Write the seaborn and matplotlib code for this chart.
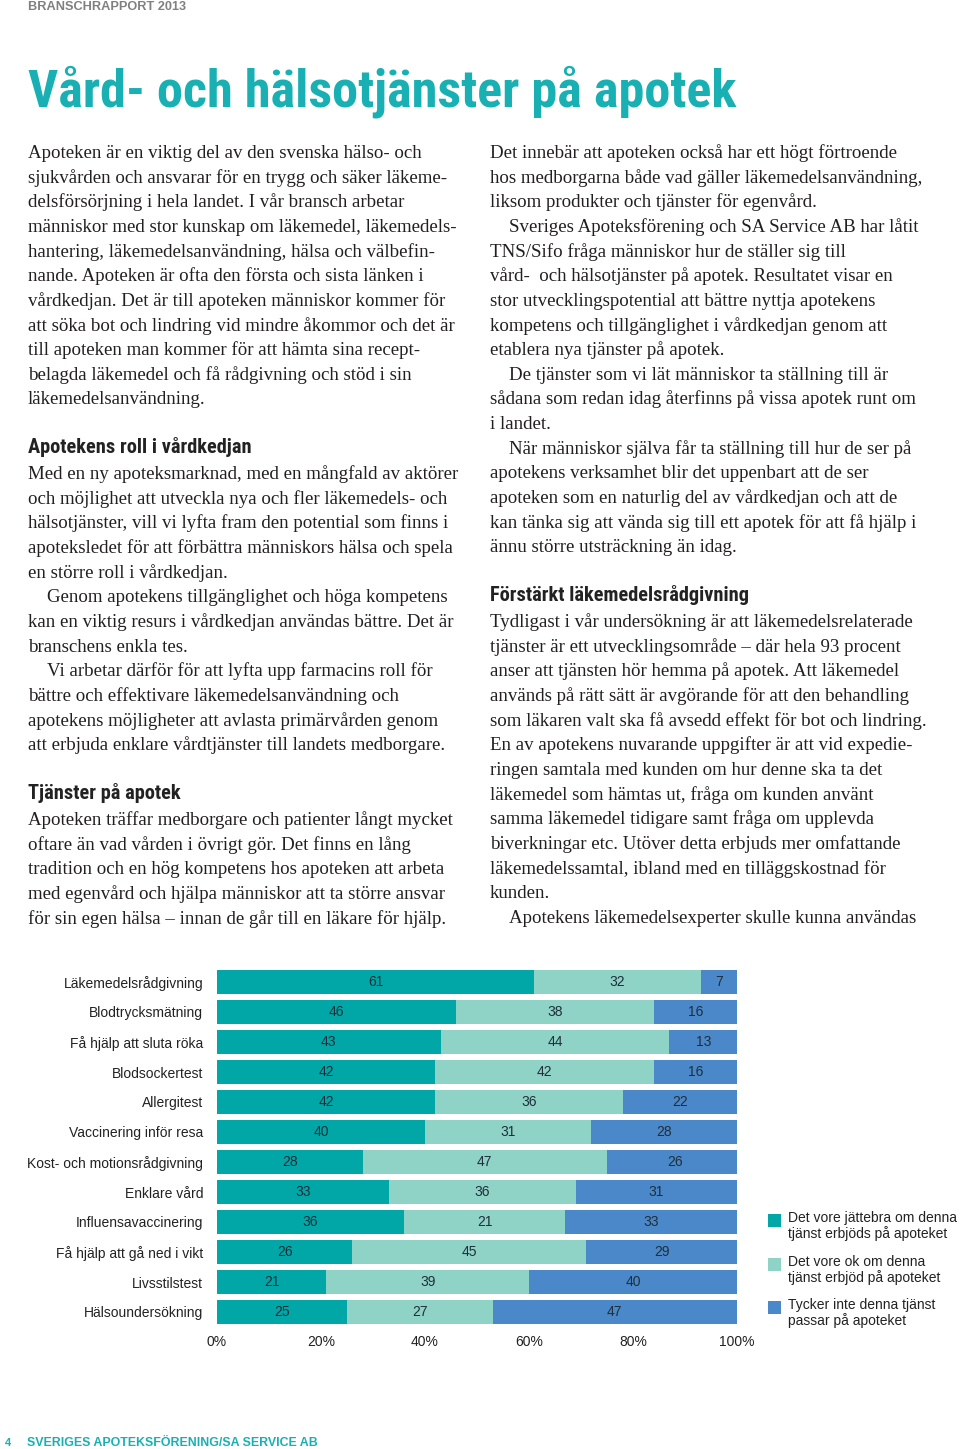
import matplotlib
matplotlib.use("Agg")
import matplotlib.pyplot as plt
from matplotlib import font_manager
from matplotlib.patches import Rectangle
import pandas as pd
import seaborn as sns


# Survey: how people feel about services at the pharmacy (percent)
services = [
    "Läkemedelsrådgivning", "Blodtrycksmätning", "Få hjälp att sluta röka",
    "Blodsockertest", "Allergitest", "Vaccinering inför resa",
    "Kost- och motionsrådgivning", "Enklare vård", "Influensavaccinering",
    "Få hjälp att gå ned i vikt", "Livsstilstest", "Hälsoundersökning"]
great = [61, 46, 43, 42, 42, 40, 28, 33, 36, 26, 21, 25]
ok = [32, 38, 44, 42, 36, 31, 47, 36, 21, 45, 39, 27]
not_fit = [7, 16, 13, 16, 22, 28, 26, 31, 33, 29, 40, 47]
# widths of the "ok" bars as drawn (they differ from some printed labels,
# e.g. Influensavaccinering is drawn 31 wide but labelled 21)
ok_drawn = [32, 38, 44, 42, 36, 32, 47, 36, 31, 45, 39, 28]

legend_labels = [
    "Det vore jättebra om denna\ntjänst erbjöds på apoteket",
    "Det vore ok om denna\ntjänst erbjöd på apoteket",
    "Tycker inte denna tjänst\npassar på apoteket"]
ticks = [0, 20, 40, 60, 80, 100]
tick_labels = ["0%", "20%", "40%", "60%", "80%", "100%"]

header = "BRANSCHRAPPORT 2013"
title = "Vård- och hälsotjänster på apotek"
footer_page = "4"
footer = "SVERIGES APOTEKSFÖRENING/SA SERVICE AB"

# "\t" marks an indented first line
left_blocks = [
    ("p", 158, [
        "Apoteken är en viktig del av den svenska hälso- och",
        "sjukvården och ansvarar för en trygg och säker läkeme-",
        "delsförsörjning i hela landet. I vår bransch arbetar",
        "människor med stor kunskap om läkemedel, läkemedels-",
        "hantering, läkemedelsanvändning, hälsa och välbefin-",
        "nande. Apoteken är ofta den första och sista länken i",
        "vårdkedjan. Det är till apoteken människor kommer för",
        "att söka bot och lindring vid mindre åkommor och det är",
        "till apoteken man kommer för att hämta sina recept-",
        "belagda läkemedel och få rådgivning och stöd i sin",
        "läkemedelsanvändning."]),
    ("h", 453, ["Apotekens roll i vårdkedjan"]),
    ("p", 479, [
        "Med en ny apoteksmarknad, med en mångfald av aktörer",
        "och möjlighet att utveckla nya och fler läkemedels- och",
        "hälsotjänster, vill vi lyfta fram den potential som finns i",
        "apoteksledet för att förbättra människors hälsa och spela",
        "en större roll i vårdkedjan.",
        "\tGenom apotekens tillgänglighet och höga kompetens",
        "kan en viktig resurs i vårdkedjan användas bättre. Det är",
        "branschens enkla tes.",
        "\tVi arbetar därför för att lyfta upp farmacins roll för",
        "bättre och effektivare läkemedelsanvändning och",
        "apotekens möjligheter att avlasta primärvården genom",
        "att erbjuda enklare vårdtjänster till landets medborgare."]),
    ("h", 799, ["Tjänster på apotek"]),
    ("p", 825, [
        "Apoteken träffar medborgare och patienter långt mycket",
        "oftare än vad vården i övrigt gör. Det finns en lång",
        "tradition och en hög kompetens hos apoteken att arbeta",
        "med egenvård och hjälpa människor att ta större ansvar",
        "för sin egen hälsa – innan de går till en läkare för hjälp."]),
]

right_blocks = [
    ("p", 158, [
        "Det innebär att apoteken också har ett högt förtroende",
        "hos medborgarna både vad gäller läkemedelsanvändning,",
        "liksom produkter och tjänster för egenvård.",
        "\tSveriges Apoteksförening och SA Service AB har låtit",
        "TNS/Sifo fråga människor hur de ställer sig till",
        "vård-  och hälsotjänster på apotek. Resultatet visar en",
        "stor utvecklingspotential att bättre nyttja apotekens",
        "kompetens och tillgänglighet i vårdkedjan genom att",
        "etablera nya tjänster på apotek.",
        "\tDe tjänster som vi lät människor ta ställning till är",
        "sådana som redan idag återfinns på vissa apotek runt om",
        "i landet.",
        "\tNär människor själva får ta ställning till hur de ser på",
        "apotekens verksamhet blir det uppenbart att de ser",
        "apoteken som en naturlig del av vårdkedjan och att de",
        "kan tänka sig att vända sig till ett apotek för att få hjälp i",
        "ännu större utsträckning än idag."]),
    ("h", 601, ["Förstärkt läkemedelsrådgivning"]),
    ("p", 627, [
        "Tydligast i vår undersökning är att läkemedelsrelaterade",
        "tjänster är ett utvecklingsområde – där hela 93 procent",
        "anser att tjänsten hör hemma på apotek. Att läkemedel",
        "används på rätt sätt är avgörande för att den behandling",
        "som läkaren valt ska få avsedd effekt för bot och lindring.",
        "En av apotekens nuvarande uppgifter är att vid expedie-",
        "ringen samtala med kunden om hur denne ska ta det",
        "läkemedel som hämtas ut, fråga om kunden använt",
        "samma läkemedel tidigare samt fråga om upplevda",
        "biverkningar etc. Utöver detta erbjuds mer omfattande",
        "läkemedelssamtal, ibland med en tilläggskostnad för",
        "kunden.",
        "\tApotekens läkemedelsexperter skulle kunna användas"]),
]

W, H = 960, 1449
teal = "#00a7a6"
light = "#8fd3c7"
blue = "#4a88c9"
title_teal = "#19b0b3"
ink = "#231f20"
label_ink = "#1f2f3a"

sns.set_theme(style="white")
installed = {f.name for f in font_manager.fontManager.ttflist}


def pick(*names):
    for n in names:
        if n in installed:
            return n
    return "DejaVu Sans"


sans = pick("Liberation Sans", "Arimo", "DejaVu Sans")
narrow = pick("Liberation Sans Narrow", "DejaVu Sans Condensed",
              "Roboto Condensed", "Liberation Sans")
serif = pick("Liberation Serif", "DejaVu Serif")
plt.rcParams["font.family"] = [sans, "DejaVu Sans"]


def fx(x):
    return x / W


def fy(y):
    return 1 - y / H


figure = plt.figure(figsize=(W / 100, H / 100), dpi=100)
figure.patch.set_facecolor("white")
renderer = figure.canvas.get_renderer()


def fit(text, width):
    # scale font so the rendered line spans the given pixel width
    w = text.get_window_extent(renderer).width
    text.set_fontsize(text.get_fontsize() * width / w)
    return text.get_fontsize()


# header, title, footer
t = figure.text(fx(28), fy(9.5), header, family=sans, weight="bold",
                fontsize=8.5, color="#808080", va="baseline")
fit(t, 157)
t = figure.text(fx(28), fy(106), title, family=narrow, weight="bold",
                fontsize=36, color=title_teal, va="baseline")
fit(t, 709)
figure.text(fx(5), fy(1446), footer_page, family=sans, weight="bold",
            fontsize=8, color=title_teal, va="baseline")
t = figure.text(fx(27), fy(1446), footer, family=sans, weight="bold",
                fontsize=8, color=title_teal, va="baseline")
fit(t, 290)

# body text: size taken from the widest line of the left column
probe = figure.text(0, 0, left_blocks[0][2][0], family=serif, fontsize=12)
body_size = fit(probe, 394)
probe.remove()
probe = figure.text(0, 0, left_blocks[1][2][0], family=narrow,
                    weight="bold", fontsize=12)
head_size = fit(probe, 224)
probe.remove()

step = 24.65
for x0, blocks in [(28, left_blocks), (490, right_blocks)]:
    for kind, base, lines in blocks:
        for i, line in enumerate(lines):
            indent = 19 if line.startswith("\t") else 0
            if kind == "h":
                figure.text(fx(x0), fy(base), line, family=narrow,
                            weight="bold", fontsize=head_size, color="#222222",
                            va="baseline")
            else:
                figure.text(fx(x0 + indent), fy(base + i * step), line.strip(),
                            family=serif, fontsize=body_size, color=ink,
                            va="baseline")

# stacked bar chart
data = pd.DataFrame({
    "service": services,
    "great": great,
    "ok": ok_drawn,
    "not_fit": not_fit,
})
data["end_great"] = data["great"]
data["end_ok"] = data["end_great"] + data["ok"]
data["end_all"] = data["end_ok"] + data["not_fit"]

ax = figure.add_axes([fx(217), fy(1327), 520 / W, 360 / H])
for column, color in [("end_all", blue), ("end_ok", light),
                      ("end_great", teal)]:
    sns.barplot(data=data, x=column, y="service", color=color, ax=ax,
                width=0.8, linewidth=0, saturation=1, errorbar=None,
                order=services)

for i in range(len(services)):
    starts = [0, great[i], great[i] + ok_drawn[i]]
    widths = [great[i], ok_drawn[i], not_fit[i]]
    labels = [great[i], ok[i], not_fit[i]]
    for s, w, lab in zip(starts, widths, labels):
        ax.text(s + w / 2, i, str(lab), ha="center", va="center",
                fontsize=10, color=label_ink, family=sans)

ax.set_xlim(0, 100)
ax.set_ylim(len(services) - 0.5, -0.5)
ax.set_xticks(ticks)
ax.set_xticklabels(tick_labels)
ax.set_xlabel("")
ax.set_ylabel("")
ax.tick_params(axis="both", length=0, labelsize=10, colors="#222222")
ax.tick_params(axis="y", pad=10)
ax.tick_params(axis="x", pad=6)
sns.despine(ax=ax, left=True, bottom=True)
ax.set_facecolor("none")

# legend drawn as swatches next to the chart
for k, (lab, color) in enumerate(zip(legend_labels, [teal, light, blue])):
    top = 1214 + k * 43.5
    figure.add_artist(Rectangle((fx(768), fy(top + 13)), 13 / W, 13 / H,
                                transform=figure.transFigure,
                                facecolor=color, edgecolor="none"))
    figure.text(fx(788), fy(top - 3), lab, family=sans, fontsize=10,
                color="#222222", va="top", linespacing=1.1)

plt.savefig("out.png", dpi=100)
